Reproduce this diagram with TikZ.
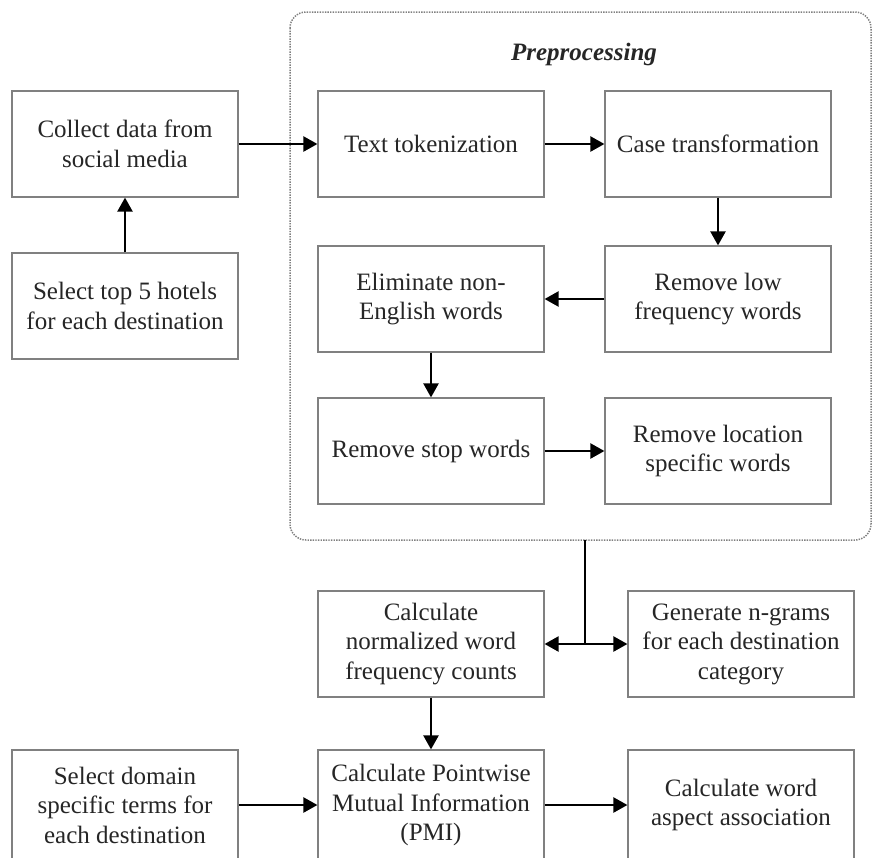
\documentclass[tikz,border=0pt]{standalone}
\usepackage{fontspec}
\setmainfont{Liberation Serif}
\usetikzlibrary{arrows.meta}
\begin{document}
\begin{tikzpicture}[x=1pt,y=-1pt,
  box/.style={draw=black!50,line width=1.2pt,fill=white,minimum width=226pt,minimum height=106pt,
    inner sep=0pt,align=center,text=black!85,font=\fontsize{25}{29.5}\selectfont},
  arr/.style={line width=2.3pt,-{Triangle[length=14pt,width=15pt]}},
  ln/.style={line width=2.3pt}]
\useasboundingbox (0,0) rectangle (873,857);
% preprocessing frame
\draw[black!50,line width=1.5pt,dash pattern=on 1.4pt off 1.2pt,rounded corners=16pt]
  (290,12) rectangle (871,540);
\node[font=\fontsize{25}{29.5}\selectfont\bfseries\itshape,text=black!85] (title) at (584,54) {Preprocessing};
% nodes
\node[box] (collect) at (125,144) {Collect data from\\social media};
\node[box] (select) at (125,306) {Select top 5 hotels\\for each destination};
\node[box] (text) at (431,144) {Text tokenization};
\node[box] (case) at (718,144) {Case transformation};
\node[box] (low) at (718,299) {Remove low\\frequency words};
\node[box] (elim) at (431,299) {Eliminate non-\\English words};
\node[box] (stop) at (431,451) {Remove stop words};
\node[box] (loc) at (718,451) {Remove location\\specific words};
\node[box] (calc) at (431,644) {Calculate\\normalized word\\frequency counts};
\node[box] (gen) at (741,644) {Generate n-grams\\for each destination\\category};
\node[box,minimum height=110pt] (dom) at (125,805) {Select domain\\specific terms for\\each destination};
\node[box,minimum height=110pt] (pmi) at (431,805) {Calculate Pointwise\\Mutual Information\\(PMI)};
\node[box,minimum height=110pt] (asp) at (741,805) {Calculate word\\aspect association};
% connectors
\draw[arr] (select) -- (collect);
\draw[arr] (collect) -- (text);
\draw[arr] (text) -- (case);
\draw[arr] (case) -- (low);
\draw[arr] (low) -- (elim);
\draw[arr] (elim) -- (stop);
\draw[arr] (stop) -- (loc);
\coordinate (frameout) at (585,540);
\coordinate (junc) at (585,644);
\draw[ln] (frameout) -- (junc);
\draw[arr] (junc) -- (calc);
\draw[arr] (junc) -- (gen);
\draw[arr] (calc) -- (pmi);
\draw[arr] (dom) -- (pmi);
\draw[arr] (pmi) -- (asp);
\end{tikzpicture}
\end{document}
